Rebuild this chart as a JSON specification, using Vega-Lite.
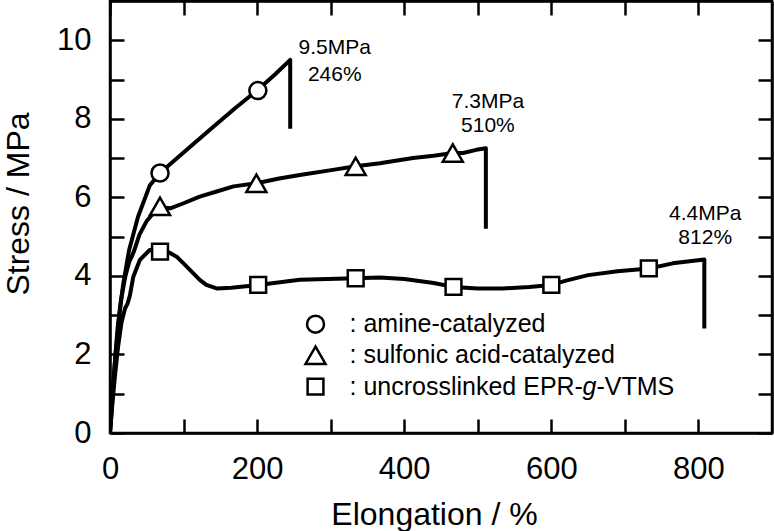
{
"$schema":"https://vega.github.io/schema/vega-lite/v6.json",
"width":662,"height":432,
"autosize":{"type":"none"},
"padding":{"left":110,"top":1,"right":2,"bottom":98},
"background":"white",
"config":{
 "view":{"stroke":"black","strokeWidth":2.5},
 "font":"Liberation Sans",
 "axis":{"domainColor":"black","domainWidth":2.5,"tickColor":"black","tickWidth":2.5,"tickSize":-14,"grid":false,
  "labelFont":"Liberation Sans","labelFontSize":31,"labelColor":"black","labelFlush":false,"labelOverlap":false,
  "titleFont":"Liberation Sans","titleFontSize":32,"titleFontWeight":"normal","titleColor":"black"}
},
"datasets":{
 "curves":[
  {"series":"amine","i":0,"x":0,"y":0},{"series":"amine","i":1,"x":1,"y":0.35},{"series":"amine","i":2,"x":2.5,"y":0.8},{"series":"amine","i":3,"x":4.5,"y":1.3},{"series":"amine","i":4,"x":8,"y":2.1},{"series":"amine","i":5,"x":12.7,"y":3.0},{"series":"amine","i":6,"x":18,"y":3.8},{"series":"amine","i":7,"x":26,"y":4.66},{"series":"amine","i":8,"x":38,"y":5.5},{"series":"amine","i":9,"x":54,"y":6.3},{"series":"amine","i":10,"x":68,"y":6.62},{"series":"amine","i":11,"x":100,"y":7.14},{"series":"amine","i":12,"x":135,"y":7.71},{"series":"amine","i":13,"x":170,"y":8.27},{"series":"amine","i":14,"x":201,"y":8.74},{"series":"amine","i":15,"x":225,"y":9.14},{"series":"amine","i":16,"x":245,"y":9.5},{"series":"amine","i":17,"x":245,"y":7.75},
  {"series":"sulfonic","i":0,"x":0,"y":0},{"series":"sulfonic","i":1,"x":2,"y":0.5},{"series":"sulfonic","i":2,"x":4,"y":1.1},{"series":"sulfonic","i":3,"x":7,"y":1.9},{"series":"sulfonic","i":4,"x":10.5,"y":2.7},{"series":"sulfonic","i":5,"x":15,"y":3.4},{"series":"sulfonic","i":6,"x":21,"y":4.0},{"series":"sulfonic","i":7,"x":26,"y":4.35},{"series":"sulfonic","i":8,"x":29.5,"y":4.49},{"series":"sulfonic","i":9,"x":33,"y":4.65},{"series":"sulfonic","i":10,"x":40,"y":5.05},{"series":"sulfonic","i":11,"x":50,"y":5.4},{"series":"sulfonic","i":12,"x":60,"y":5.62},{"series":"sulfonic","i":13,"x":68,"y":5.75},{"series":"sulfonic","i":14,"x":82,"y":5.72},{"series":"sulfonic","i":15,"x":100,"y":5.85},{"series":"sulfonic","i":16,"x":122,"y":6.02},{"series":"sulfonic","i":17,"x":145,"y":6.15},{"series":"sulfonic","i":18,"x":168,"y":6.28},{"series":"sulfonic","i":19,"x":199,"y":6.36},{"series":"sulfonic","i":20,"x":230,"y":6.48},{"series":"sulfonic","i":21,"x":258,"y":6.57},{"series":"sulfonic","i":22,"x":303,"y":6.7},{"series":"sulfonic","i":23,"x":334,"y":6.79},{"series":"sulfonic","i":24,"x":367,"y":6.87},{"series":"sulfonic","i":25,"x":412,"y":7.0},{"series":"sulfonic","i":26,"x":440,"y":7.06},{"series":"sulfonic","i":27,"x":466,"y":7.13},{"series":"sulfonic","i":28,"x":480,"y":7.13},{"series":"sulfonic","i":29,"x":498,"y":7.21},{"series":"sulfonic","i":30,"x":511,"y":7.25},{"series":"sulfonic","i":31,"x":511,"y":5.2},
  {"series":"uncross","i":0,"x":0,"y":0},{"series":"uncross","i":1,"x":3,"y":0.7},{"series":"uncross","i":2,"x":7,"y":1.5},{"series":"uncross","i":3,"x":11,"y":2.2},{"series":"uncross","i":4,"x":15.5,"y":2.8},{"series":"uncross","i":5,"x":20.4,"y":3.17},{"series":"uncross","i":6,"x":24,"y":3.3},{"series":"uncross","i":7,"x":27,"y":3.5},{"series":"uncross","i":8,"x":31.7,"y":3.98},{"series":"uncross","i":9,"x":40.7,"y":4.41},{"series":"uncross","i":10,"x":54,"y":4.66},{"series":"uncross","i":11,"x":67,"y":4.68},{"series":"uncross","i":12,"x":78,"y":4.62},{"series":"uncross","i":13,"x":90.6,"y":4.49},{"series":"uncross","i":14,"x":102,"y":4.28},{"series":"uncross","i":15,"x":113,"y":4.07},{"series":"uncross","i":16,"x":122,"y":3.9},{"series":"uncross","i":17,"x":131,"y":3.77},{"series":"uncross","i":18,"x":145,"y":3.68},{"series":"uncross","i":19,"x":165,"y":3.7},{"series":"uncross","i":20,"x":201.5,"y":3.77},{"series":"uncross","i":21,"x":258,"y":3.9},{"series":"uncross","i":22,"x":334,"y":3.94},{"series":"uncross","i":23,"x":367,"y":3.96},{"series":"uncross","i":24,"x":400,"y":3.92},{"series":"uncross","i":25,"x":440,"y":3.82},{"series":"uncross","i":26,"x":467,"y":3.72},{"series":"uncross","i":27,"x":500,"y":3.68},{"series":"uncross","i":28,"x":534,"y":3.68},{"series":"uncross","i":29,"x":570,"y":3.72},{"series":"uncross","i":30,"x":600,"y":3.77},{"series":"uncross","i":31,"x":620,"y":3.88},{"series":"uncross","i":32,"x":650,"y":4.02},{"series":"uncross","i":33,"x":690,"y":4.12},{"series":"uncross","i":34,"x":733,"y":4.19},{"series":"uncross","i":35,"x":765,"y":4.32},{"series":"uncross","i":36,"x":808,"y":4.42},{"series":"uncross","i":37,"x":808,"y":2.66}
 ],
 "markers":[
  {"series":"amine","x":68,"y":6.62},{"series":"amine","x":201,"y":8.72},
  {"series":"sulfonic","x":68,"y":5.77},{"series":"sulfonic","x":199,"y":6.36},{"series":"sulfonic","x":334,"y":6.79},{"series":"sulfonic","x":466,"y":7.13},
  {"series":"uncross","x":68,"y":4.62},{"series":"uncross","x":201.5,"y":3.77},{"series":"uncross","x":334,"y":3.94},{"series":"uncross","x":467,"y":3.72},{"series":"uncross","x":600,"y":3.77},{"series":"uncross","x":732.5,"y":4.19}
 ],
 "notes":[
  {"x":305.6,"y":9.81,"text":"9.5MPa"},{"x":305.6,"y":9.12,"text":"246%"},
  {"x":513.8,"y":8.42,"text":"7.3MPa"},{"x":513.8,"y":7.81,"text":"510%"},
  {"x":809.2,"y":5.57,"text":"4.4MPa"},{"x":809.2,"y":4.96,"text":"812%"}
 ],
 "legend":[
  {"series":"amine","x":279.4,"y":2.77,"label":": amine-catalyzed"},
  {"series":"sulfonic","x":279.4,"y":1.98,"label":": sulfonic acid-catalyzed"},
  {"series":"uncross","x":279.4,"y":1.18,"label":": uncrosslinked EPR-"}
 ]
},
"resolve":{"axis":{"x":"independent","y":"independent"}},
"layer":[
 {"data":{"name":"curves"},
  "mark":{"type":"line","stroke":"black","strokeWidth":4,"strokeJoin":"round","strokeCap":"butt","clip":true},
  "encoding":{
   "x":{"field":"x","type":"quantitative","scale":{"domain":[0,900],"nice":false,"zero":false},
    "axis":{"orient":"bottom","values":[0,100,200,300,400,500,600,700,800],"labelExpr":"datum.value % 200 === 0 ? datum.label : ''","labelPadding":35,"title":"Elongation / %","titleX":324,"titleY":91,"titleBaseline":"alphabetic","titleAlign":"center",
     "encode":{"ticks":{"update":{"y2":{"signal":"datum.value % 200 === 0 ? -14 : -7"}}}}}},
   "y":{"field":"y","type":"quantitative","scale":{"domain":[0,11],"nice":false,"zero":false},
    "axis":{"orient":"left","values":[0,1,2,3,4,5,6,7,8,9,10],"labelExpr":"datum.value % 2 === 0 ? datum.label : ''","labelPadding":33,"title":"Stress / MPa","titleX":-82,"titleY":202.5,"titleBaseline":"alphabetic","titleAlign":"center","titleAngle":-90,
     "encode":{"ticks":{"update":{"x2":{"signal":"datum.value % 2 === 0 ? 14 : 7"}}}}}},
   "detail":{"field":"series","type":"nominal"},
   "order":{"field":"i","type":"quantitative"}
  }},
 {"data":{"name":"markers"},
  "mark":{"type":"point","filled":true,"fill":"white","stroke":"black","strokeWidth":2.5,"opacity":1},
  "encoding":{
   "x":{"field":"x","type":"quantitative","scale":{"domain":[0,900],"nice":false,"zero":false},
    "axis":{"orient":"top","values":[0,100,200,300,400,500,600,700,800],"labels":false,"title":null,
     "encode":{"ticks":{"update":{"y2":{"signal":"datum.value % 200 === 0 ? 14 : 7"}}}}}},
   "y":{"field":"y","type":"quantitative","scale":{"domain":[0,11],"nice":false,"zero":false},
    "axis":{"orient":"right","values":[0,1,2,3,4,5,6,7,8,9,10],"labels":false,"title":null,
     "encode":{"ticks":{"update":{"x2":{"signal":"datum.value % 2 === 0 ? -14 : -7"}}}}}},
   "shape":{"field":"series","type":"nominal","scale":{"domain":["amine","sulfonic","uncross"],"range":["circle","triangle-up","square"]},"legend":null},
   "size":{"condition":[{"test":"datum.series === 'sulfonic'","value":400},{"test":"datum.series === 'uncross'","value":250}],"value":290}
  }},
 {"data":{"name":"notes"},
  "mark":{"type":"text","font":"Liberation Sans","fontSize":21,"align":"center","baseline":"middle","color":"black"},
  "encoding":{
   "x":{"field":"x","type":"quantitative","axis":null},
   "y":{"field":"y","type":"quantitative","axis":null},
   "text":{"field":"text","type":"nominal"}
  }},
 {"data":{"name":"legend"},
  "mark":{"type":"point","filled":true,"fill":"white","stroke":"black","strokeWidth":2.5,"opacity":1},
  "encoding":{
   "x":{"field":"x","type":"quantitative","axis":null},
   "y":{"field":"y","type":"quantitative","axis":null},
   "shape":{"field":"series","type":"nominal","scale":{"domain":["amine","sulfonic","uncross"],"range":["circle","triangle-up","square"]},"legend":null},
   "size":{"condition":[{"test":"datum.series === 'sulfonic'","value":400},{"test":"datum.series === 'uncross'","value":250}],"value":290}
  }},
 {"data":{"name":"legend"},
  "mark":{"type":"text","font":"Liberation Sans","fontSize":25,"align":"left","baseline":"middle","dx":34,"color":"black"},
  "encoding":{
   "x":{"field":"x","type":"quantitative","axis":null},
   "y":{"field":"y","type":"quantitative","axis":null},
   "text":{"field":"label","type":"nominal"}
  }},
 {"data":{"name":"legend"},
  "transform":[{"filter":"datum.series === 'uncross'"}],
  "mark":{"type":"text","font":"Liberation Sans","fontSize":25,"fontStyle":"italic","align":"left","baseline":"middle","dx":267,"color":"black"},
  "encoding":{
   "x":{"field":"x","type":"quantitative","axis":null},
   "y":{"field":"y","type":"quantitative","axis":null},
   "text":{"value":"g"}
  }},
 {"data":{"name":"legend"},
  "transform":[{"filter":"datum.series === 'uncross'"}],
  "mark":{"type":"text","font":"Liberation Sans","fontSize":25,"align":"left","baseline":"middle","dx":281,"color":"black"},
  "encoding":{
   "x":{"field":"x","type":"quantitative","axis":null},
   "y":{"field":"y","type":"quantitative","axis":null},
   "text":{"value":"-VTMS"}
  }}
]
}
